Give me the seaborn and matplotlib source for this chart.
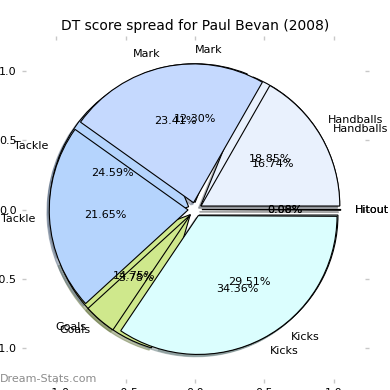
#!/usr/bin/env python3
"""
DT score spread pie chart (two seasons of data laid over each other)
"""

import matplotlib
matplotlib.use("Agg")
import matplotlib.pyplot as plt
import seaborn as sns

# Data
categories = ["Handballs", "Mark", "Tackle", "Goals", "Kicks", "Hitout"]
spread_first = [18.85, 12.30, 24.59, 14.75, 29.51, 0.00]
spread_second = [16.74, 23.41, 21.65, 3.78, 34.36, 0.08]
slice_colors = ["#e9f1fd", "#c5d9fe", "#b5d4fd", "#cfe88c", "#dbfefe", "#e6e6e6"]
axis_ticks = [-1.0, -0.5, 0.0, 0.5, 1.0]
chart_title = "DT score spread for Paul Bevan (2008)"
watermark = "Dream-Stats.com"


def pct_text(values):
    """Show the stored share of each slice"""
    total = sum(values)
    return lambda p: f"{p * total / 100:.2f}%"


def main():
    sns.set_style("white")
    plt.rcParams['font.family'] = ['DejaVu Sans']
    plt.rcParams['text.color'] = 'black'
    plt.rcParams['xtick.labelcolor'] = 'black'
    plt.rcParams['ytick.labelcolor'] = 'black'

    fig = plt.figure(figsize=(3.9, 3.9), dpi=100)
    ax = fig.add_axes([20 / 390, 7 / 390, 350 / 390, 347 / 390])

    # Older spread first, the newer one is drawn on top of it
    for values in (spread_first, spread_second):
        ax.pie(
            values,
            labels=categories,
            colors=slice_colors,
            explode=[0.05] * len(values),
            shadow={'ox': -0.012, 'oy': -0.012, 'shade': 0.45},
            startangle=0,
            autopct=pct_text(values),
            wedgeprops={'edgecolor': 'black', 'linewidth': 0.8},
            textprops={'fontsize': 8, 'color': 'black'},
        )

    ax.set_xlim(-1.25, 1.25)
    ax.set_ylim(-1.25, 1.25)
    ax.set_xticks(axis_ticks)
    ax.set_yticks(axis_ticks)
    ax.tick_params(direction='in', length=3, width=1, color='#c8c8c8',
                   labelsize=8, labelcolor='black',
                   bottom=True, left=True, top=True, right=True,
                   labeltop=False, labelright=False)
    for spine in ax.spines.values():
        spine.set_visible(False)

    ax.set_title(chart_title, fontsize=10, pad=4, color='black')
    fig.text(0.0, 0.028, watermark, color='#8c8c8c', fontsize=8,
             ha='left', va='center')

    fig.savefig('out.png', dpi=100)
    plt.close(fig)


if __name__ == "__main__":
    main()
